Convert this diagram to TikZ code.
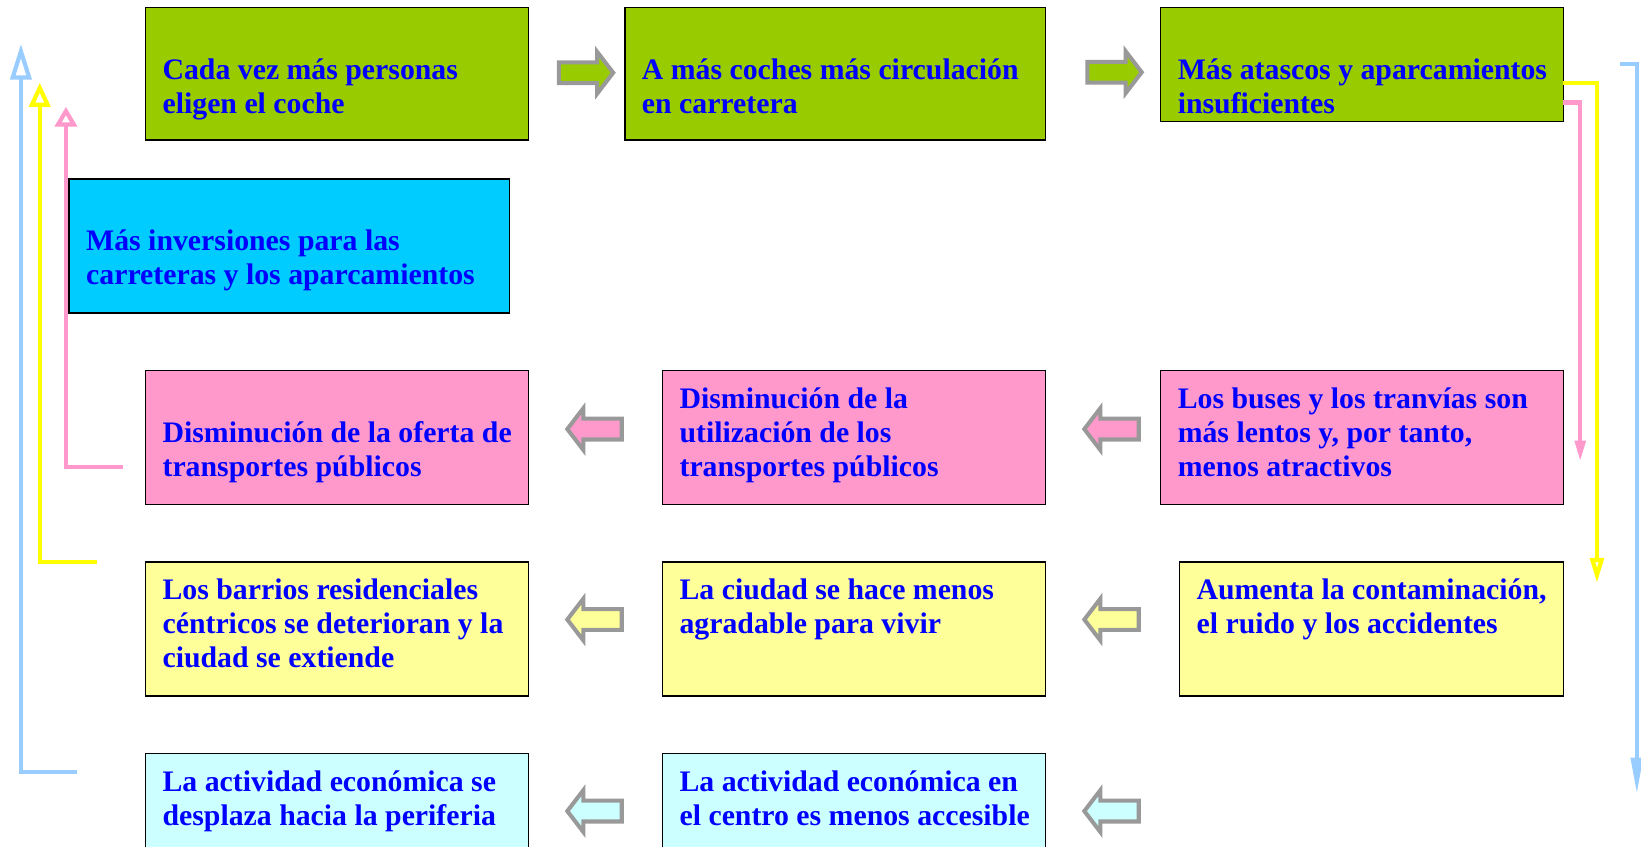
\documentclass[tikz,border=0pt]{standalone}
\usepackage{fontspec}
\setmainfont{Liberation Serif}
\usetikzlibrary{shapes.arrows,arrows.meta}

\definecolor{verde}{HTML}{99CC00}
\definecolor{celeste}{HTML}{00CCFF}
\definecolor{rosa}{HTML}{FF99CC}
\definecolor{crema}{HTML}{FFFF99}
\definecolor{hielo}{HTML}{CCFFFF}
\definecolor{azulclaro}{HTML}{99CCFF}
\definecolor{amarillo}{HTML}{FFFF00}
\definecolor{gris}{HTML}{999999}
\definecolor{azultexto}{HTML}{0000FF}

\tikzset{
  caja/.style={draw=black, line width=0.8pt, anchor=north west, inner sep=0pt, outer sep=0pt},
  texto/.style={anchor=north west, inner sep=0pt, align=left, text=azultexto,
    font=\fontsize{16.2}{18.5}\selectfont\bfseries},
  flecha/.style={single arrow, draw=gris, line width=2.2pt, inner sep=0.16cm,
    single arrow head extend=0.2cm, single arrow tip angle=105,
    minimum height=1.04cm, anchor=tail},
  linea/.style={line width=0.08cm}
}

\begin{document}
\begin{tikzpicture}[x=0.02cm, y=-0.02cm]
  \useasboundingbox (0,0) rectangle (1568,809);
  \clip (0,0) rectangle (1568,809);

  % fila de arriba
  \node[caja, fill=verde, minimum width=7.32cm, minimum height=2.54cm] (coche) at (139,7) {};
  \node[caja, fill=verde, minimum width=8.04cm, minimum height=2.54cm] (circulacion) at (597,7) {};
  \node[caja, fill=verde, minimum width=7.7cm, minimum height=2.18cm] (atascos) at (1109,7) {};
  \node[caja, fill=celeste, minimum width=8.42cm, minimum height=2.56cm] (inversiones) at (66,171) {};

  \node[texto] (coche-t) at ([shift={(16,13)}]coche.north west) {\strut\\Cada vez más personas\\eligen el coche};
  \node[texto] (circulacion-t) at ([shift={(16,13)}]circulacion.north west) {\strut\\A más coches más circulación\\en carretera};
  \node[texto] (atascos-t) at ([shift={(16,13)}]atascos.north west) {\strut\\Más atascos y aparcamientos\\insuficientes};
  \node[texto] (inversiones-t) at ([shift={(16,13)}]inversiones.north west) {\strut\\Más inversiones para las\\carreteras y los aparcamientos};

  % rosa
  \node[caja, fill=rosa, minimum width=7.32cm, minimum height=2.56cm] (oferta) at (139,354) {};
  \node[caja, fill=rosa, minimum width=7.32cm, minimum height=2.56cm] (utilizacion) at (633,354) {};
  \node[caja, fill=rosa, minimum width=7.7cm, minimum height=2.56cm] (buses) at (1109,354) {};

  \node[texto] (oferta-t) at ([shift={(16,13)}]oferta.north west) {\strut\\Disminución de la oferta de\\transportes públicos};
  \node[texto] (utilizacion-t) at ([shift={(16,13)}]utilizacion.north west) {\strut Disminución de la\\utilización de los\\transportes públicos};
  \node[texto] (buses-t) at ([shift={(16,13)}]buses.north west) {\strut Los buses y los tranvías son\\más lentos y, por tanto,\\menos atractivos};

  % amarillo
  \node[caja, fill=crema, minimum width=7.32cm, minimum height=2.56cm] (barrios) at (139,537) {};
  \node[caja, fill=crema, minimum width=7.32cm, minimum height=2.56cm] (ciudad) at (633,537) {};
  \node[caja, fill=crema, minimum width=7.34cm, minimum height=2.56cm] (contaminacion) at (1127,537) {};

  \node[texto] (barrios-t) at ([shift={(16,13)}]barrios.north west) {\strut Los barrios residenciales\\céntricos se deterioran y la\\ciudad se extiende};
  \node[texto] (ciudad-t) at ([shift={(16,13)}]ciudad.north west) {\strut La ciudad se hace menos\\agradable para vivir};
  \node[texto] (contaminacion-t) at ([shift={(16,13)}]contaminacion.north west) {\strut Aumenta la contaminación,\\el ruido y los accidentes};

  % abajo
  \node[caja, fill=hielo, minimum width=7.32cm, minimum height=2.56cm] (periferia) at (139,720) {};
  \node[caja, fill=hielo, minimum width=7.32cm, minimum height=2.56cm] (centro) at (633,720) {};

  \node[texto] (periferia-t) at ([shift={(16,13)}]periferia.north west) {\strut La actividad económica se\\desplaza hacia la periferia};
  \node[texto] (centro-t) at ([shift={(16,13)}]centro.north west) {\strut La actividad económica en\\el centro es menos accesible};

  % flechas gordas
  \node[flecha, fill=verde] (f1) at (532,69.5) {};
  \node[flecha, fill=verde] (f2) at (1037,69) {};
  \node[flecha, fill=rosa, shape border rotate=180] (f3) at (1090,410) {};
  \node[flecha, fill=rosa, shape border rotate=180] (f4) at (596,410) {};
  \node[flecha, fill=crema, shape border rotate=180] (f5) at (1090,592) {};
  \node[flecha, fill=crema, shape border rotate=180] (f6) at (596,592) {};
  \node[flecha, fill=hielo, shape border rotate=180] (f7) at (1090,775) {};
  \node[flecha, fill=hielo, shape border rotate=180] (f8) at (596,775) {};

  % lineas de la derecha
  \coordinate (azul-ini) at (1548,61);
  \draw[linea, draw=amarillo, -{Triangle[open, length=0.48cm, width=0.26cm]}] ([shift={(0,72)}]atascos.north east) -- ++(32,0) -- ++(0,478);
  \draw[linea, draw=rosa, -{Triangle[length=0.4cm, width=0.2cm]}] ([shift={(0,91)}]atascos.north east) -- ++(16,0) -- ++(0,343);
  \draw[linea, draw=azulclaro, -{Triangle[length=0.7cm, width=0.22cm]}] (azul-ini) -- ++(16,0) -- ++(0,698);

  % lineas de la izquierda
  \coordinate (azul-fin) at (74,738);
  \coordinate (amarillo-fin) at (93,537);
  \coordinate (rosa-fin) at (118,446);
  \draw[linea, draw=azulclaro, -{Triangle[open, length=0.68cm, width=0.4cm]}] (azul-fin) -| (20,42);
  \draw[linea, draw=amarillo, -{Triangle[open, length=0.46cm, width=0.4cm]}] (amarillo-fin) -| (38,79);
  \draw[linea, draw=rosa, -{Triangle[open, length=0.38cm, width=0.42cm]}] (rosa-fin) -| (63,102);
\end{tikzpicture}
\end{document}
